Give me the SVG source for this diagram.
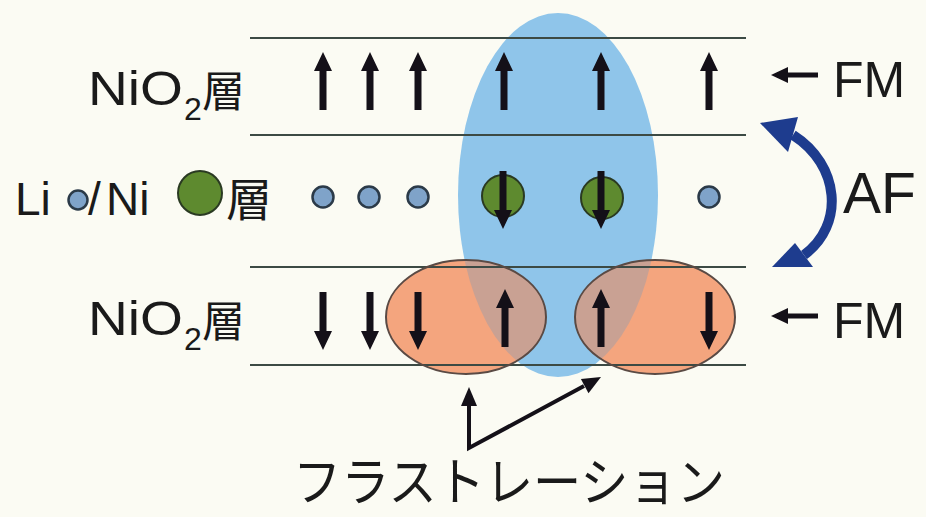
<svg xmlns="http://www.w3.org/2000/svg" width="926" height="517" viewBox="0 0 926 517">
  <style>
    .lat { font-family: "Liberation Sans", Arial, sans-serif; fill: #1a1a1a; }
    .cjk { font-family: "Noto Sans CJK JP", "Noto Sans CJK SC", sans-serif; fill: #1a1a1a; }
    .layer { stroke: #3c4a44; stroke-width: 2; }
    .spin { fill: #141018; }
    .li { fill: #7fa3c9; stroke: #2b3a48; stroke-width: 2.5; }
    .ni { fill: #5e8a2f; stroke: #2a3a22; stroke-width: 2; }
    .pair { fill: #f4a57e; }
    .pair-edge { fill: none; stroke: #5a4a44; stroke-width: 2; }
    .ptr { fill: none; stroke: #141018; stroke-width: 4; }
  </style>
  <defs>
    <!-- spin arrow pointing up, tip at origin, length 58 -->
    <path id="up" d="M0,0 L9,19 L3.5,19 L3.5,58 L-3.5,58 L-3.5,19 L-9,19 Z"/>
    <!-- short left-pointing arrow -->
    <path id="left" d="M0,0 L17,-8 L17,-2.5 L47,-2.5 L47,2.5 L17,2.5 L17,8 Z"/>
    <clipPath id="pairs">
      <ellipse cx="466" cy="317" rx="80" ry="57"/>
      <ellipse cx="655" cy="317" rx="80" ry="57"/>
    </clipPath>
  </defs>

  <rect width="926" height="517" fill="#fbfbf3"/>

  <!-- highlighted regions -->
  <g id="af-region">
    <ellipse cx="558" cy="195" rx="100" ry="182" fill="#8fc5ea"/>
  </g>
  <g id="frustration-pairs">
    <ellipse class="pair" cx="466" cy="317" rx="80" ry="57"/>
    <ellipse class="pair" cx="655" cy="317" rx="80" ry="57"/>
    <ellipse cx="558" cy="195" rx="100" ry="182" fill="#c9a193" clip-path="url(#pairs)"/>
  </g>

  <!-- layer boundaries -->
  <g id="layers">
    <line class="layer" x1="250" y1="38" x2="746" y2="38"/>
    <line class="layer" x1="250" y1="135" x2="746" y2="135"/>
    <line class="layer" x1="250" y1="267" x2="746" y2="267"/>
    <line class="layer" x1="250" y1="365" x2="746" y2="365"/>
  </g>

  <g id="pair-outlines">
    <ellipse class="pair-edge" cx="466" cy="317" rx="80" ry="57"/>
    <ellipse class="pair-edge" cx="655" cy="317" rx="80" ry="57"/>
  </g>

  <!-- upper NiO2 layer -->
  <g id="layer-top">
    <text class="lat" x="88" y="105" font-size="49" textLength="95" lengthAdjust="spacingAndGlyphs">NiO</text>
    <text class="lat" x="184" y="120" font-size="32">2</text>
    <text class="cjk" x="202" y="107" font-size="43">層</text>
    <g class="spin">
      <use href="#up" x="323" y="52"/>
      <use href="#up" x="370" y="52"/>
      <use href="#up" x="418" y="52"/>
      <use href="#up" x="504" y="52"/>
      <use href="#up" x="601" y="52"/>
      <use href="#up" x="709" y="52"/>
    </g>
  </g>

  <!-- Li / Ni layer -->
  <g id="layer-mid">
    <text class="lat" x="15" y="215" font-size="46">Li</text>
    <circle class="li" cx="78" cy="200" r="9.5"/>
    <text class="lat" x="88" y="215" font-size="46">/</text>
    <text class="lat" x="106" y="215" font-size="46">Ni</text>
    <circle class="ni" cx="200" cy="193" r="22"/>
    <text class="cjk" x="226" y="216" font-size="46">層</text>
    <circle class="li" cx="323" cy="197" r="10.5"/>
    <circle class="li" cx="369" cy="197" r="10.5"/>
    <circle class="li" cx="418" cy="197" r="10.5"/>
    <circle class="li" cx="709" cy="197" r="10.5"/>
    <circle class="ni" cx="503" cy="196" r="21"/>
    <circle class="ni" cx="602" cy="198" r="21"/>
    <g class="spin">
      <use href="#up" transform="translate(503,229) scale(1,-1)"/>
      <use href="#up" transform="translate(601,229) scale(1,-1)"/>
    </g>
  </g>

  <!-- lower NiO2 layer -->
  <g id="layer-bottom">
    <text class="lat" x="88" y="335" font-size="49" textLength="95" lengthAdjust="spacingAndGlyphs">NiO</text>
    <text class="lat" x="184" y="350" font-size="32">2</text>
    <text class="cjk" x="202" y="337" font-size="43">層</text>
    <g class="spin">
      <use href="#up" transform="translate(323,350) scale(1,-1)"/>
      <use href="#up" transform="translate(370,350) scale(1,-1)"/>
      <use href="#up" transform="translate(418,350) scale(1,-1)"/>
      <use href="#up" x="505" y="289"/>
      <use href="#up" x="601" y="289"/>
      <use href="#up" transform="translate(709,350) scale(1,-1)"/>
    </g>
  </g>

  <!-- FM labels -->
  <g id="fm-top">
    <use href="#left" x="771" y="75" class="spin"/>
    <text class="lat" x="833" y="97" font-size="50">FM</text>
  </g>
  <g id="fm-bottom">
    <use href="#left" x="771" y="316" class="spin"/>
    <text class="lat" x="833" y="338" font-size="50">FM</text>
  </g>

  <!-- AF coupling between layers -->
  <g id="af">
    <path d="M793,135 C840,165 845,225 804,255" fill="none" stroke="#1e3c8e" stroke-width="10"/>
    <polygon points="760,123 798,117 788,152" fill="#1e3c8e"/>
    <polygon points="772,267 813,267 795,243" fill="#1e3c8e"/>
    <text class="lat" x="843" y="213" font-size="57">AF</text>
  </g>

  <!-- frustration pointers -->
  <g id="connectors">
    <polyline class="ptr" points="469,404 469,448 584,386"/>
    <polygon class="spin" points="469,387 461,406 477,406"/>
    <polygon class="spin" points="601,377 588.5,393.2 580.9,379"/>
  </g>
  <g id="frustration-label">
    <text class="cjk" x="293" y="501" font-size="52" textLength="432" lengthAdjust="spacingAndGlyphs">フラストレーション</text>
  </g>
</svg>
